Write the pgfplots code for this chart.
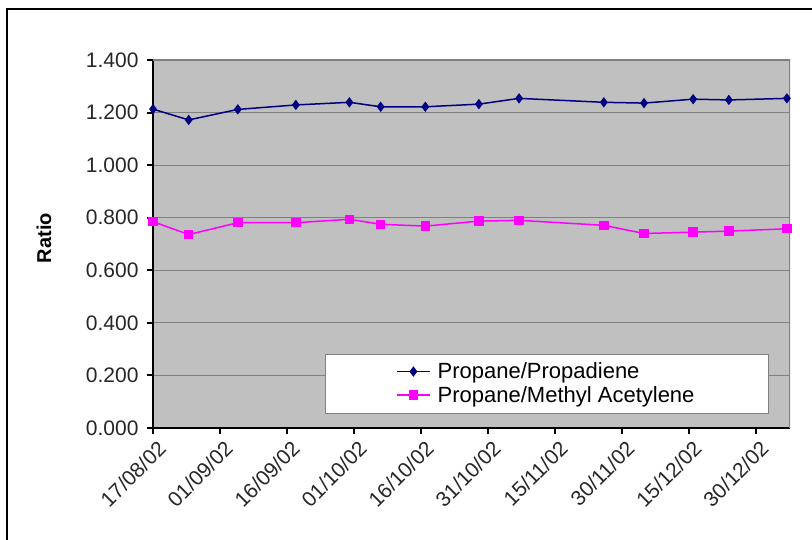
\documentclass[border=0pt]{standalone}
\usepackage{pgfplots}
\pgfplotsset{compat=1.18}
\usepackage{fontspec}
\setmainfont{Liberation Sans}
\definecolor{plotbg}{RGB}{192,192,192}
\definecolor{gridc}{RGB}{128,128,128}
\definecolor{navyc}{RGB}{0,0,128}
\definecolor{magc}{RGB}{255,0,255}
\begin{document}
\begin{tikzpicture}[x=1pt,y=1pt]
\useasboundingbox (0,0) rectangle (812,540);
\draw[line width=2pt] (7,0) -- (7,531) -- (812,531);
\begin{axis}[
  scale only axis, width=637pt, height=368pt,
  at={(153pt,112pt)}, anchor=south west,
  xmin=0, xmax=142.7, ymin=0, ymax=1.4,
  axis x line*=bottom, axis y line*=left,
  axis line style={line width=2.5pt, black, -},
  axis background/.style={fill=plotbg},
  tick align=outside, major tick length=6pt,
  tick style={line width=2pt, black},
  xtick={0,15,30,45,60,75,90,105,120,135},
  xticklabels={17/08/02,01/09/02,16/09/02,01/10/02,16/10/02,31/10/02,15/11/02,30/11/02,15/12/02,30/12/02},
  ytick={0,0.2,0.4,0.6,0.8,1.0,1.2,1.4},
  ymajorgrids, grid style={gridc, line width=1.2pt},
  /pgf/number format/assume math mode=true,
  yticklabel style={/pgf/number format/fixed, /pgf/number format/fixed zerofill, /pgf/number format/precision=3, font=\fontsize{21}{24}\selectfont, color=black!85, xshift=-5pt},
  xticklabel style={rotate=45, anchor=north east, font=\fontsize{21}{24}\selectfont, color=black!85, yshift=-3pt, xshift=2pt},
  ylabel={\textbf{Ratio}},
  ylabel style={at={(axis description cs:-0.171,0.516)}, anchor=center, rotate=0, font=\fontsize{20}{24}\selectfont},
  legend style={at={(0.27,0.041)}, anchor=south west, draw=gridc, fill=white, font=\fontsize{22}{24}\selectfont, inner xsep=71pt, inner ysep=7pt, row sep=2pt, /tikz/every odd column/.append style={column sep=5pt}},
  legend cell align=left,
  legend image code/.code={\draw[#1] (0pt,0pt) -- (33pt,0pt); \draw[#1, only marks] plot coordinates {(16.5pt,0pt)};},
]
\draw[gridc, line width=1.2pt] (rel axis cs:0,1) -- (rel axis cs:1,1) -- (rel axis cs:1,0);
\addplot[navyc, line width=1.5pt, mark=diamond*, mark size=4pt, mark options={fill=navyc}] coordinates {
(0,1.213) (8,1.172) (19,1.212) (32,1.229) (44,1.239) (51,1.222) (61,1.222) (73,1.232) (82,1.254) (101,1.239) (110,1.236) (121,1.251) (129,1.248) (142,1.254)};
\addlegendentry{\makebox[258pt][l]{Propane/Propadiene}}
\addplot[magc, line width=1.5pt, mark=square*, mark size=4pt, mark options={fill=magc}] coordinates {
(0,0.785) (8,0.736) (19,0.781) (32,0.781) (44,0.794) (51,0.775) (61,0.768) (73,0.787) (82,0.790) (101,0.771) (110,0.740) (121,0.745) (129,0.749) (142,0.758)};
\addlegendentry{\makebox[258pt][l]{Propane/Methyl Acetylene}}
\end{axis}
\end{tikzpicture}
\end{document}
